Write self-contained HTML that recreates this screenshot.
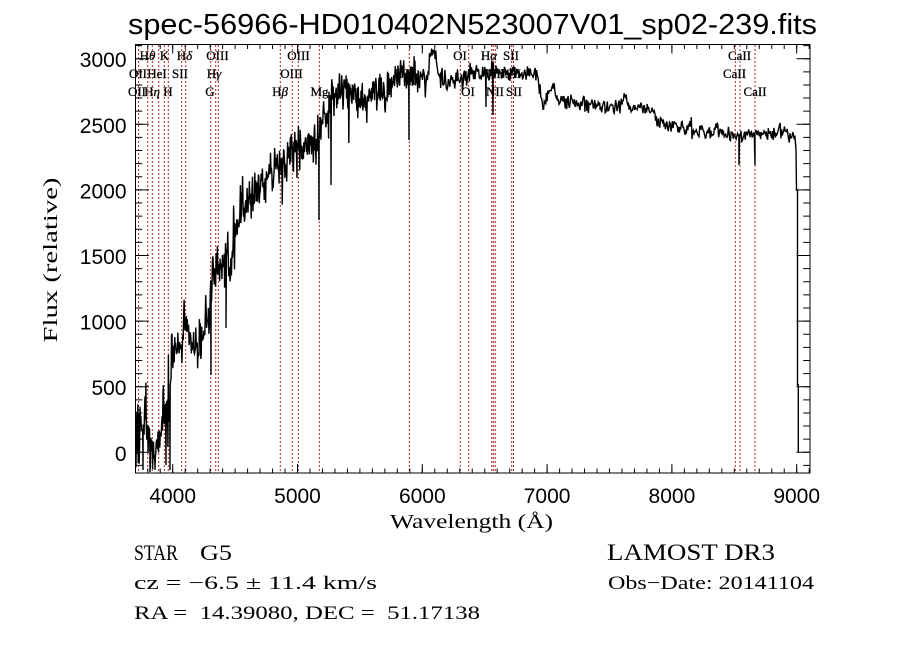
<!DOCTYPE html>
<html><head><meta charset="utf-8">
<style>
html,body{margin:0;padding:0;background:#fff;}
svg{display:block;}
.t{font-family:"Liberation Sans",sans-serif;fill:#000;}
.s{font-family:"Liberation Serif",serif;fill:#000;}
.lb{font-family:"Liberation Serif",serif;font-size:13px;fill:#000;stroke:#000;stroke-width:0.25;}
</style></head>
<body>
<svg xmlns="http://www.w3.org/2000/svg" width="900" height="649" viewBox="0 0 900 649">
<rect width="900" height="649" fill="#fff"/>
<defs><clipPath id="c"><rect x="135.5" y="44.5" width="674.5" height="428.5"/></clipPath></defs>

<text class="t" x="128" y="34" font-size="29" textLength="689" lengthAdjust="spacingAndGlyphs">spec-56966-HD010402N523007V01_sp02-239.fits</text>

<g stroke="#b22222" stroke-width="1" stroke-dasharray="2,2" fill="none">
<line x1="138.6" y1="45" x2="138.6" y2="473"/>
<line x1="147.7" y1="45" x2="147.7" y2="473"/>
<line x1="152.3" y1="45" x2="152.3" y2="473"/>
<line x1="158.7" y1="45" x2="158.7" y2="473"/>
<line x1="164.3" y1="45" x2="164.3" y2="473"/>
<line x1="168.3" y1="45" x2="168.3" y2="473"/>
<line x1="181.7" y1="45" x2="181.7" y2="473"/>
<line x1="185.7" y1="45" x2="185.7" y2="473"/>
<line x1="210.7" y1="45" x2="210.7" y2="473"/>
<line x1="215.7" y1="45" x2="215.7" y2="473"/>
<line x1="218.3" y1="45" x2="218.3" y2="473"/>
<line x1="280.3" y1="45" x2="280.3" y2="473"/>
<line x1="292.3" y1="45" x2="292.3" y2="473"/>
<line x1="298.3" y1="45" x2="298.3" y2="473"/>
<line x1="319.3" y1="45" x2="319.3" y2="473"/>
<line x1="409.3" y1="45" x2="409.3" y2="473"/>
<line x1="460.3" y1="45" x2="460.3" y2="473"/>
<line x1="468.7" y1="45" x2="468.7" y2="473"/>
<line x1="491.7" y1="45" x2="491.7" y2="473"/>
<line x1="493.3" y1="45" x2="493.3" y2="473"/>
<line x1="495.3" y1="45" x2="495.3" y2="473"/>
<line x1="511.7" y1="45" x2="511.7" y2="473"/>
<line x1="513.5" y1="45" x2="513.5" y2="473"/>
<line x1="735.3" y1="45" x2="735.3" y2="473"/>
<line x1="740.0" y1="45" x2="740.0" y2="473"/>
<line x1="755.0" y1="45" x2="755.0" y2="473"/>
</g>

<g class="lb" text-anchor="middle">
<text x="147.5" y="60">H<tspan font-style="italic">θ</tspan></text>
<text x="164.5" y="60">K</text>
<text x="184.5" y="60">H<tspan font-style="italic">δ</tspan></text>
<text x="217.5" y="60">OIII</text>
<text x="298.5" y="60">OIII</text>
<text x="460" y="60">OI</text>
<text x="489" y="60">H<tspan font-style="italic">α</tspan></text>
<text x="511" y="60">SII</text>
<text x="739.5" y="60">CaII</text>

<text x="138" y="78">OII</text>
<text x="157" y="78">HeI</text>
<text x="180" y="78">SII</text>
<text x="214" y="78">H<tspan font-style="italic">γ</tspan></text>
<text x="291.5" y="78">OIII</text>
<text x="406.5" y="78">Na</text>
<text x="496" y="78">NII</text>
<text x="513" y="78">SII</text>
<text x="734.5" y="78">CaII</text>

<text x="137" y="96">OII</text>
<text x="152" y="96">H<tspan font-style="italic">η</tspan></text>
<text x="168" y="96">H</text>
<text x="210" y="96">G</text>
<text x="280" y="96">H<tspan font-style="italic">β</tspan></text>
<text x="319.5" y="96">Mg</text>
<text x="468" y="96">OI</text>
<text x="495" y="96">NII</text>
<text x="514" y="96">SII</text>
<text x="755" y="96">CaII</text>
</g>

<path id="spec" clip-path="url(#c)" fill="none" stroke="#000" stroke-width="1.4" stroke-linejoin="miter"
d="M136,428 L147,425 L149,450 L157,455 L159,420 L163,425 L167,410 L170,395 L172,345 L182,345 L184,315 L187,330 L196,355 L200,345 L209,315 L211,375 L212,290 L216,262 L225,262 L232,255 L240,210 L248,205 L258,190 L268,180 L282,160 L290,150 L302,145 L318,145 L319,220 L322,115 L335,100 L345,85 L350,100 L387,90 L400,70 L409,140 L410,75 L426,80 L430,58 L434,55 L438,75 L460,82 L470,72 L485,72 L493,115 L517,72 L537,75 L543,105 L548,95 L553,83 L558,100 L587,105 L620,107 L625,93 L630,108 L653,110 L658,124 L687,130 L720,132 L737,135 L739,165 L741,135 L755,165 L757,135 L795,133 L796,150 L796.5,190 L797.5,190 L797.5,385 L798.3,385 L798.3,452"/>

<rect x="135.5" y="44.5" width="674.5" height="428.5" fill="none" stroke="#000" stroke-width="1"/>

<g stroke="#000" fill="none">
<line x1="147.24" y1="470.75" x2="810" y2="470.75" stroke-width="4.5" stroke-dasharray="1 11.48"/>
<line x1="147.24" y1="46.75" x2="810" y2="46.75" stroke-width="4.5" stroke-dasharray="1 11.48"/>
<line x1="172.2" y1="468.5" x2="800" y2="468.5" stroke-width="9" stroke-dasharray="1 123.8"/>
<line x1="172.2" y1="49" x2="800" y2="49" stroke-width="9" stroke-dasharray="1 123.8"/>
<line x1="138.9" y1="45.08" x2="138.9" y2="473" stroke-width="6.75" stroke-dasharray="1 12.12"/>
<line x1="806.6" y1="45.08" x2="806.6" y2="473" stroke-width="6.75" stroke-dasharray="1 12.12"/>
<line x1="142.25" y1="58.2" x2="142.25" y2="460" stroke-width="13.5" stroke-dasharray="1 64.6"/>
<line x1="803.25" y1="58.2" x2="803.25" y2="460" stroke-width="13.5" stroke-dasharray="1 64.6"/>
</g>

<g class="t" font-size="21" text-anchor="end">
<text x="126.5" y="460.8">0</text>
<text x="126.5" y="395.2">500</text>
<text x="126.5" y="329.6">1000</text>
<text x="126.5" y="264.0">1500</text>
<text x="126.5" y="198.4">2000</text>
<text x="126.5" y="132.8">2500</text>
<text x="126.5" y="67.2">3000</text>
</g>
<g class="t" font-size="21" text-anchor="middle">
<text x="172.7" y="503">4000</text>
<text x="297.5" y="503">5000</text>
<text x="422.3" y="503">6000</text>
<text x="547.1" y="503">7000</text>
<text x="671.9" y="503">8000</text>
<text x="796.7" y="503">9000</text>
</g>

<text class="s" x="390" y="528" font-size="20" textLength="163" lengthAdjust="spacingAndGlyphs">Wavelength (Å)</text>
<text class="s" transform="translate(57,260) rotate(-90)" text-anchor="middle" font-size="20" textLength="165" lengthAdjust="spacingAndGlyphs">Flux (relative)</text>

<text class="s" x="134" y="560" font-size="22" textLength="44" lengthAdjust="spacingAndGlyphs">STAR</text>
<text class="s" x="200" y="560" font-size="22" textLength="32" lengthAdjust="spacingAndGlyphs">G5</text>
<text class="s" x="607" y="560" font-size="23" textLength="168" lengthAdjust="spacingAndGlyphs">LAMOST DR3</text>
<text class="s" x="134" y="589" font-size="19" textLength="243" lengthAdjust="spacingAndGlyphs">cz = −6.5 ± 11.4 km/s</text>
<text class="s" x="608" y="589" font-size="19" textLength="206" lengthAdjust="spacingAndGlyphs">Obs−Date: 20141104</text>
<text class="s" x="134" y="619" font-size="19" textLength="346" lengthAdjust="spacingAndGlyphs" style="white-space:pre">RA =  14.39080, DEC =  51.17138</text>
</svg>

<script>
(function(){
var A=[[136,428,30],[147,425,30],[149,450,18],[157,455,18],[159,420,35],[163,425,35],[167,410,35],[170,395,30],
[172,345,18],[182,345,15],[184,315,14],[187,330,14],[196,355,14],[200,345,15],[209,315,18],[212,290,26],[216,262,25],
[225,262,28],[232,255,25],[240,210,22],[248,205,20],[258,190,18],[268,180,18],[282,160,20],[290,150,22],[302,145,18],
[318,145,18],[322,115,20],[335,100,22],[345,85,20],[350,100,18],[387,90,16],[400,70,12],[410,75,12],[426,80,12],[430,58,12],
[434,55,12],[438,75,12],[460,82,10],[470,72,9],[485,72,8],[517,72,7],[537,75,7],[543,105,6],[548,95,6],[553,83,6],[558,100,6],
[587,105,6],[620,107,6],[625,93,6],[630,108,6],[653,110,6],[658,124,6],[687,130,6],[720,132,6],[737,135,6],[795,133,6]];
var D=[[143,470],[150,472],[155,470],[166,465],[170,470],[211,375],[226,328],[281,175],[297,178],[319,220],[331,185],
[409,140],[486,107],[493,115],[739,165],[755,165]];
function interp(x){
  for(var i=0;i<A.length-1;i++){
    if(x<=A[i+1][0]){var a=A[i],b=A[i+1],t=(x-a[0])/(b[0]-a[0]);
      return [a[1]+(b[1]-a[1])*t,a[2]+(b[2]-a[2])*t];}
  }
  return [A[A.length-1][1],A[A.length-1][2]];
}
var s=987654321;
function r(){s|=0;s=s+0x6D2B79F5|0;var t=Math.imul(s^s>>>15,1|s);t=t+Math.imul(t^t>>>7,61|t)^t;return((t^t>>>14)>>>0)/4294967296;}
var pts=[],di=0,x=136;
while(x<=795){
  while(di<D.length&&D[di][0]<=x){pts.push([D[di][0],D[di][1]]);di++;}
  var e=interp(x),m=e[0],a=e[1];
  var lf=0.5*Math.sin(x*0.9+1.3)+0.4*Math.sin(x*0.31+2.1);
  var n=(r()+r()-1)*a*1.3+lf*a*0.35;
  if(r()<0.08)n+=(r()*2-1)*a*1.6;
  pts.push([x,m+n]);
  x+=(x<420?0.45:0.7);
}
var d="M"+pts[0][0].toFixed(1)+","+pts[0][1].toFixed(1);
for(var i=1;i<pts.length;i++)d+=" L"+pts[i][0].toFixed(1)+","+pts[i][1].toFixed(1);
d+=" L796,150 L796.5,190 L797.5,190 L797.5,385 L798.3,385 L798.3,452";
document.getElementById("spec").setAttribute("d",d);
})();
</script>
</body></html>
